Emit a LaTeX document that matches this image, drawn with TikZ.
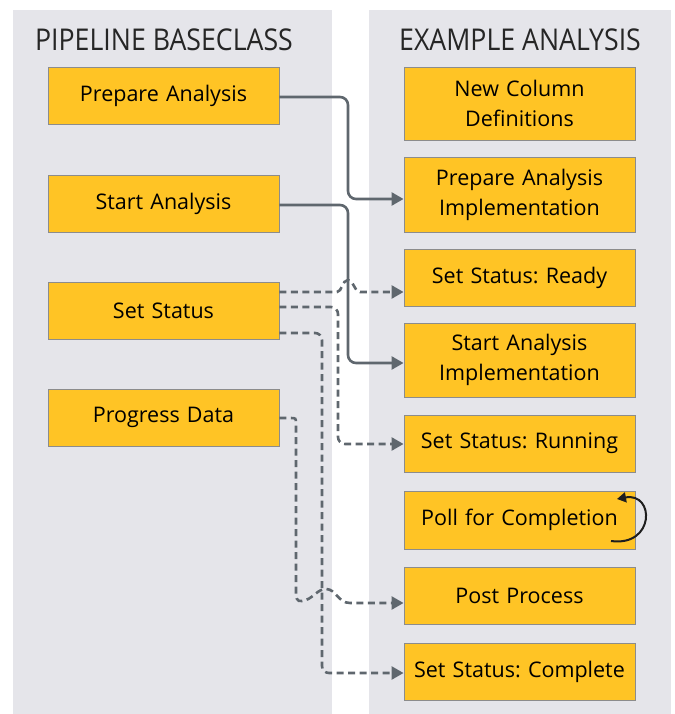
\documentclass[tikz,border=0pt]{standalone}
\usepackage{fontspec}
\setmainfont{Open Sans}
\frenchspacing
\usetikzlibrary{arrows.meta}
\definecolor{panelbg}{HTML}{E5E5EA}
\definecolor{boxfill}{HTML}{FFC425}
\definecolor{boxline}{HTML}{8C8C8C}
\definecolor{conn}{HTML}{5F676E}
\definecolor{loopc}{HTML}{1E1E1E}
\tikzset{
  panel/.style={fill=panelbg, draw=none},
  title/.style={font=\fontsize{30}{30}\selectfont, text=black!85, inner sep=0pt},
  stepbox/.style={draw=boxline, fill=boxfill, line width=0.9pt, minimum width=231pt,
    text width=228pt, align=center, inner sep=0pt,
    font=\fontsize{21.5}{30}\selectfont},
  solidconn/.style={draw=conn, line width=2.6pt, rounded corners=8pt,
    -{Triangle[length=12pt,width=13pt]}},
  dashconn/.style={draw=conn, line width=2.6pt, dash pattern=on 7pt off 4.5pt,
    -{Triangle[length=12pt,width=13pt]}},
}
\begin{document}
\begin{tikzpicture}[x=1pt,y=-1pt]
\useasboundingbox (0,0) rectangle (674,714);
\fill[panelbg] (13,10) rectangle (332,714);
\fill[panelbg] (369,10) rectangle (671,714);
\node[title] (t1) at (164,40) {\scalebox{0.89}[1]{PIPELINE BASECLASS}};
\node[title] (t2) at (520,40) {\scalebox{0.89}[1]{EXAMPLE ANALYSIS}};

% left boxes
\node[stepbox, minimum height=57pt] (pa) at (163.5,96) {Prepare Analysis};
\node[stepbox, minimum height=57pt] (sa) at (163.5,203.5) {Start Analysis};
\node[stepbox, minimum height=57pt] (ss) at (163.5,310.5) {Set Status};
\node[stepbox, minimum height=57pt] (pd) at (163.5,417.5) {Progress Data};

% right boxes
\node[stepbox, minimum height=73pt] (ncd) at (519.5,103.5) {New Column\\Definitions};
\node[stepbox, minimum height=75pt] (pai) at (519.5,194.5) {Prepare Analysis\\Implementation};
\node[stepbox, minimum height=57pt] (rdy) at (519.5,277.5) {Set Status: Ready};
\node[stepbox, minimum height=74pt] (sai) at (519.5,360) {Start Analysis\\Implementation};
\node[stepbox, minimum height=57pt] (run) at (519.5,443.5) {Set Status: Running};
\node[stepbox, minimum height=58pt] (poll) at (519.5,520) {Poll for Completion};
\node[stepbox, minimum height=57pt] (post) at (519.5,595.5) {Post Process};
\node[stepbox, minimum height=57pt] (cmp) at (519.5,671.5) {Set Status: Complete};

% solid connectors
\draw[solidconn] (pa.east |- 0,97) -- (348,97) -- (348,199) -- (pai.west |- 0,199);
\draw[solidconn] (sa.east |- 0,205) -- (348,205) -- (348,363) -- (sai.west |- 0,363);

% dashed connectors
\draw[dashconn] (ss.east |- 0,292) -- (337,292)
  .. controls (342,292) and (342,280) .. (348,280)
  .. controls (354,280) and (354,292) .. (360,292) -- (rdy.west |- 0,292);
\draw[dashconn, rounded corners=7pt] (ss.east |- 0,307) -- (338,307) -- (338,444) -- (run.west |- 0,444);
\draw[dashconn, rounded corners=7pt] (ss.east |- 0,333) -- (322,333) -- (322,673) -- (cmp.west |- 0,673);
\draw[dashconn] (pd.east |- 0,418) -- (290,418)
  .. controls (296,418) .. (296,424) -- (296,594)
  .. controls (296,602) and (300,602) .. (306,600)
  .. controls (314,597) and (318,589) .. (326,589)
  .. controls (336,589) and (338,603) .. (350,603) -- (post.west |- 0,603);

% poll loop
\draw[loopc, line width=2pt, -{Triangle[length=9pt,width=10pt]}]
  (611,541) .. controls (655,547) and (655,492) .. (617,499);
\end{tikzpicture}
\end{document}
